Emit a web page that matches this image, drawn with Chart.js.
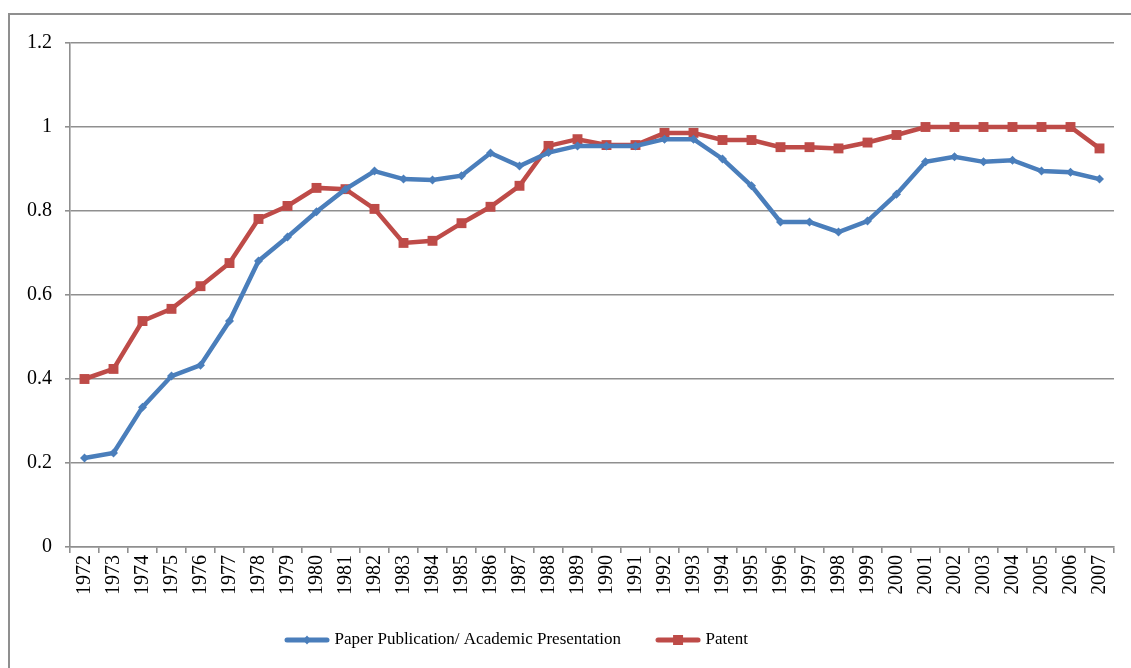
<!DOCTYPE html>
<html>
<head>
<meta charset="utf-8">
<script src="https://cdn.jsdelivr.net/npm/chart.js@4/dist/chart.umd.min.js"></script>
<style>
  html, body { margin: 0; padding: 0; background: #fff; overflow: hidden; }
  #frame { position: absolute; left: 8px; top: 13px; width: 1300px; height: 800px; border: 2px solid #8f8f8f; box-sizing: border-box; }
  #wrap { position: absolute; left: 0; top: 0; width: 1131px; height: 668px; }
</style>
</head>
<body>
<div id="frame"></div>
<div id="wrap"><canvas id="c" width="1131" height="668"></canvas></div>
<script>
const years = ['1972','1973','1974','1975','1976','1977','1978','1979','1980','1981','1982','1983','1984','1985','1986','1987','1988','1989','1990','1991','1992','1993','1994','1995','1996','1997','1998','1999','2000','2001','2002','2003','2004','2005','2006','2007'];
const paperValues = [0.212,0.224,0.333,0.407,0.433,0.538,0.681,0.738,0.798,0.852,0.895,0.876,0.874,0.884,0.938,0.907,0.939,0.955,0.955,0.955,0.971,0.971,0.924,0.860,0.774,0.774,0.750,0.776,0.840,0.917,0.929,0.917,0.921,0.895,0.892,0.876];
const patentValues = [0.400,0.424,0.538,0.567,0.621,0.676,0.781,0.812,0.855,0.852,0.805,0.724,0.729,0.771,0.810,0.860,0.955,0.971,0.957,0.957,0.986,0.986,0.969,0.969,0.952,0.952,0.949,0.963,0.981,1.0,1.0,1.0,1.0,1.0,1.0,0.949];
const yTickValues = [0, 0.2, 0.4, 0.6, 0.8, 1, 1.2];
const yTickLabels = ['0','0.2','0.4','0.6','0.8','1','1.2'];
const seriesNames = ['Paper Publication/ Academic Presentation', 'Patent'];

const BLUE = '#4A7EBB';
const RED = '#BE4B48';
const GRID = '#8f8f8f';
const FONT = 'Liberation Serif';

function legendIcon(color, style) {
  const cv = document.createElement('canvas');
  cv.width = 46; cv.height = 12;
  const g = cv.getContext('2d');
  g.strokeStyle = color; g.lineWidth = 5; g.lineCap = 'round';
  g.beginPath(); g.moveTo(3, 6); g.lineTo(43, 6); g.stroke();
  g.fillStyle = color;
  if (style === 'rect') { g.fillRect(23 - 5, 6 - 5, 10, 10); }
  else { g.beginPath(); g.moveTo(23, 1.5); g.lineTo(27, 6); g.lineTo(23, 10.5); g.lineTo(19, 6); g.closePath(); g.fill(); }
  return cv;
}
const icons = [legendIcon(BLUE, 'rectRot'), legendIcon(RED, 'rect')];

const legendFix = {
  id: 'legendFix',
  afterInit(chart) {
    const lg = chart.legend;
    if (lg) {
      const orig = lg.fit;
      lg.fit = function () { orig.call(this); this.height = 74.5; };
    }
  },
  afterLayout(chart) {
    const lg = chart.legend;
    if (lg) { lg.left -= 39; lg.right -= 39; }
  }
};

new Chart(document.getElementById('c'), {
  type: 'line',
  data: {
    labels: years,
    datasets: [
      { label: seriesNames[0], data: paperValues, borderColor: BLUE, backgroundColor: BLUE, borderWidth: 4.5,
        pointStyle: 'rectRot', pointRadius: 4.5, pointBorderWidth: 0, tension: 0 },
      { label: seriesNames[1], data: patentValues, borderColor: RED, backgroundColor: RED, borderWidth: 4.5,
        pointStyle: 'rect', pointRadius: 7, pointBorderWidth: 0, tension: 0 }
    ]
  },
  options: {
    responsive: false,
    animation: false,
    devicePixelRatio: 1,
    layout: { padding: { left: 0, right: 17, top: 43, bottom: 0 } },
    plugins: {
      tooltip: { enabled: false },
      legend: {
        position: 'bottom',
        labels: {
          usePointStyle: true,
          pointStyleWidth: 38,
          padding: 38,
          color: '#000',
          font: { family: FONT, size: 17 },
          generateLabels(chart) {
            const items = Chart.defaults.plugins.legend.labels.generateLabels(chart);
            items.forEach((it, i) => { it.pointStyle = icons[i]; });
            return items;
          }
        }
      }
    },
    scales: {
      x: {
        type: 'category',
        offset: true,
        grid: { offset: true, drawOnChartArea: false, drawTicks: true, tickLength: 6, color: GRID, lineWidth: 1.6 },
        border: { color: GRID, width: 1.6 },
        ticks: { autoSkip: false, minRotation: 90, maxRotation: 90, padding: 2, color: '#000', font: { family: FONT, size: 20 } },
        afterFit(scale) { scale.height = 46.5; }
      },
      y: {
        min: 0, max: 1.2,
        afterBuildTicks(scale) { scale.ticks = yTickValues.map(v => ({ value: v })); },
        grid: { color: GRID, lineWidth: 1.6, tickLength: 5 },
        border: { color: GRID, width: 1.6 },
        ticks: {
          padding: 13, color: '#000', font: { family: FONT, size: 20 },
          callback(value) { const i = yTickValues.findIndex(v => Math.abs(v - value) < 1e-9); return i >= 0 ? yTickLabels[i] : ''; }
        },
        afterFit(scale) { scale.width = 70; }
      }
    }
  },
  plugins: [legendFix]
});
</script>
</body>
</html>
